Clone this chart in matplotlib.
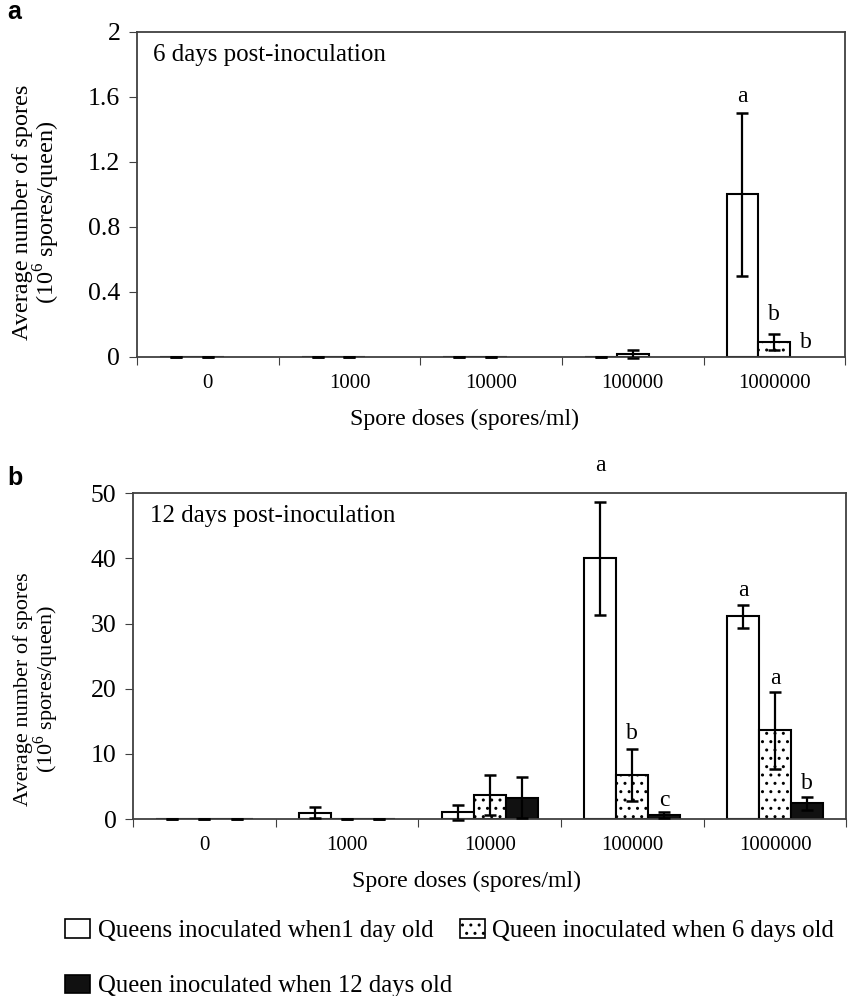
import numpy as np
import matplotlib
matplotlib.use("Agg")
import matplotlib.pyplot as plt
from matplotlib.patches import Patch

plt.rcParams['font.family'] = ['Liberation Serif', 'DejaVu Serif']
plt.rcParams['mathtext.fontset'] = 'custom'
plt.rcParams['mathtext.rm'] = 'Liberation Serif'
plt.rcParams['font.size'] = 15
plt.rcParams['hatch.linewidth'] = 1.0

doses = ['0', '1000', '10000', '100000', '1000000']
series_names = ['Queens inoculated when1 day old',
                'Queen inoculated when 6 days old',
                'Queen inoculated when 12 days old']

# panel a: 6 days post-inoculation (10^6 spores/queen)
a_day1 = [0, 0, 0, 0, 1.0]
a_day1_err = [0, 0, 0, 0, 0.5]
a_day6 = [0, 0, 0, 0.02, 0.09]
a_day6_err = [0, 0, 0, 0.025, 0.05]
a_day12 = [np.nan, np.nan, np.nan, np.nan, np.nan]
a_day12_err = [np.nan, np.nan, np.nan, np.nan, np.nan]
a_letters = [(4, 0, 'a', 1.6), (4, 1, 'b', 0.26), (4, 2, 'b', 0.092)]

# panel b: 12 days post-inoculation
b_day1 = [0, 0.95, 1.0, 40.0, 31.1]
b_day1_err = [0, 0.85, 1.1, 8.7, 1.8]
b_day6 = [0, 0, 3.7, 6.7, 13.6]
b_day6_err = [0, 0, 3.1, 4.0, 5.9]
b_day12 = [0, 0, 3.3, 0.6, 2.4]
b_day12_err = [0, 0, 3.2, 0.4, 1.0]
b_letters = [(3, 0, 'a', 54.3), (3, 1, 'b', 13.2), (3, 2, 'c', 2.9),
             (4, 0, 'a', 35.1), (4, 1, 'a', 21.5), (4, 2, 'b', 5.4)]

styles = [dict(facecolor='white', hatch=None),
          dict(facecolor='white', hatch='..'),
          dict(facecolor='#111111', hatch=None)]
width = 0.225
spine_col = '#404040'


def draw_panel(ax, means, errs, letters, ymax, yticks, ticklabels, title):
    x = np.arange(len(doses))
    for i, (m, e) in enumerate(zip(means, errs)):
        pos = x + (i - 1) * width
        ax.bar(pos, m, width, edgecolor='black', linewidth=1.5, **styles[i])
        eb = ax.errorbar(pos, m, yerr=e, fmt='none', ecolor='black',
                         elinewidth=1.6, capsize=4.5, capthick=1.8, zorder=3)
        for c in eb.lines[1]:
            c.set_clip_on(False)
    for g, s, txt, y in letters:
        ax.text(x[g] + (s - 1) * width, y, txt, ha='center', va='center',
                fontsize=17, clip_on=False)
    ax.set_xlim(-0.5, len(doses) - 0.5)
    ax.set_ylim(0, ymax)
    ax.set_yticks(yticks)
    ax.set_yticklabels(ticklabels)
    ax.set_xticks(np.arange(len(doses) + 1) - 0.5)
    ax.set_xticklabels([])
    ax.set_xticks(x, minor=True)
    ax.set_xticklabels(doses, minor=True)
    ax.tick_params(axis='x', which='major', length=6, color=spine_col, direction='out')
    ax.tick_params(axis='x', which='minor', length=0, pad=12)
    ax.tick_params(axis='y', length=6, color=spine_col, direction='out', pad=6,
                   labelsize=18.5)
    for sp in ax.spines.values():
        sp.set_color(spine_col)
        sp.set_linewidth(1.3)
    ax.text(0.023, 0.93, title, transform=ax.transAxes, ha='left', va='center',
            fontsize=18)
    ax.set_xlabel('Spore doses (spores/ml)', fontsize=17.2)
    ax.set_ylabel('Average number of spores\n(10$^6$ spores/queen)', fontsize=16,
                  linespacing=0.95)


fig = plt.figure(figsize=(8.48, 9.96), dpi=100)
ax1 = fig.add_axes([0.1616, 0.6416, 0.835, 0.3263])
ax2 = fig.add_axes([0.157, 0.1777, 0.841, 0.327])

draw_panel(ax1, [a_day1, a_day6, a_day12], [a_day1_err, a_day6_err, a_day12_err],
           a_letters, 2, [0, 0.4, 0.8, 1.2, 1.6, 2],
           ['0', '0.4', '0.8', '1.2', '1.6', '2'], '6 days post-inoculation')
draw_panel(ax2, [b_day1, b_day6, b_day12], [b_day1_err, b_day6_err, b_day12_err],
           b_letters, 50, [0, 10, 20, 30, 40, 50],
           ['0', '10', '20', '30', '40', '50'], '12 days post-inoculation')

ax1.yaxis.label.set_fontsize(17.5)
ax1.xaxis.set_label_coords(0.463, -0.16)
ax2.xaxis.set_label_coords(0.468, -0.16)
ax1.yaxis.set_label_coords(-0.106, 0.446)
ax2.yaxis.set_label_coords(-0.101, 0.40)

fig.text(0.009, 0.988, 'a', fontsize=18, fontweight='bold',
         family='Liberation Sans', ha='left', va='center')
fig.text(0.009, 0.52, 'b', fontsize=18, fontweight='bold',
         family='Liberation Sans', ha='left', va='center')

handles = [Patch(edgecolor='black', linewidth=1.2, **st) for st in styles]
order = [0, 2, 1]
fig.legend([handles[i] for i in order], [series_names[i] for i in order],
           ncol=2, loc='upper left', bbox_to_anchor=(0.0767, 0.077),
           frameon=False, fontsize=17.8, handlelength=1.0, handleheight=0.77,
           handletextpad=0.32, columnspacing=0.32, labelspacing=1.31,
           borderpad=0, borderaxespad=0)

fig.savefig('out.png', dpi=100)
